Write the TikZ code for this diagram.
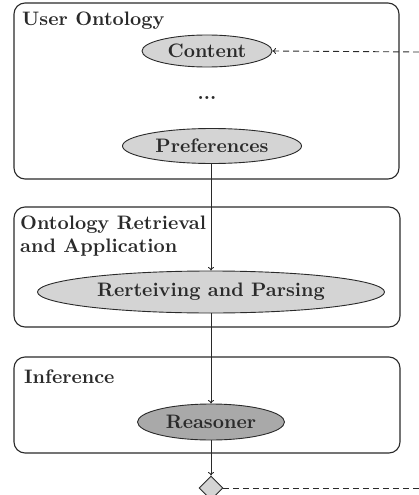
\documentclass[tikz,border=0pt]{standalone}
\usepackage{fontspec}
\setmainfont{lmroman10-regular.otf}[BoldFont=lmroman10-bold.otf]
\usetikzlibrary{shapes.geometric,arrows.meta}
\definecolor{lineg}{HTML}{2A2A2A}
\definecolor{lightf}{HTML}{D4D4D4}
\definecolor{darkf}{HTML}{A9A9A9}
\begin{document}
\begin{tikzpicture}[x=1pt,y=-1pt,
  every node/.style={font=\fontsize{19.5}{23}\selectfont\bfseries, text=lineg},
  group/.style={draw=lineg, line width=1.1pt, rounded corners=11pt},
  ell/.style={ellipse, draw=lineg, line width=0.9pt, fill=lightf, inner sep=0pt},
  title/.style={anchor=base west, inner sep=0pt, align=left},
  conn/.style={draw=lineg, line width=0.9pt, -{To[length=3.5pt,width=6pt]}},
  dconn/.style={draw=lineg, line width=0.9pt, dashed, dash pattern=on 6pt off 4pt},
]
\useasboundingbox (0,0) rectangle (419,495);
% groups
\draw[group] (14,3) rectangle (399,179);
\draw[group] (14,207) rectangle (400,327);
\draw[group] (14,357) rectangle (400,453);
\node[title] (t1) at (22,26) {User Ontology};
\node[title] (t2) at (20,252) {Ontology Retrieval\\and Application};
\node[title] (t3) at (24,383) {Inference};
% nodes
\node[ell, minimum width=130pt, minimum height=32pt] (content) at (207,51) {Content};
\node[inner sep=0pt] (dots) at (207,98) {...};
\node[ell, minimum width=179pt, minimum height=35pt] (pref) at (212,146) {Preferences};
\node[ell, minimum width=347pt, minimum height=42pt] (parse) at (211,292) {Rerteiving and Parsing};
\node[ell, fill=darkf, minimum width=147pt, minimum height=36pt] (reason) at (211,422) {Reasoner};
\node[diamond, draw=lineg, line width=0.9pt, fill=lightf, minimum width=24pt, minimum height=24pt, inner sep=0pt] (dec) at (211,488) {};
\coordinate (rin) at (419,52);
\coordinate (rout) at (419,488);
% connectors
\draw[conn] (pref.south -| 211,0) -- (parse.north -| 211,0);
\draw[conn] (parse.south -| 211,0) -- (reason.north -| 211,0);
\draw[conn] (reason.south -| 211,0) -- (dec.north);
\draw[dconn, -{To[length=3.5pt,width=6pt]}] (rin) -- (content.east);
\draw[dconn] (dec.east) -- (rout);
\end{tikzpicture}
\end{document}
